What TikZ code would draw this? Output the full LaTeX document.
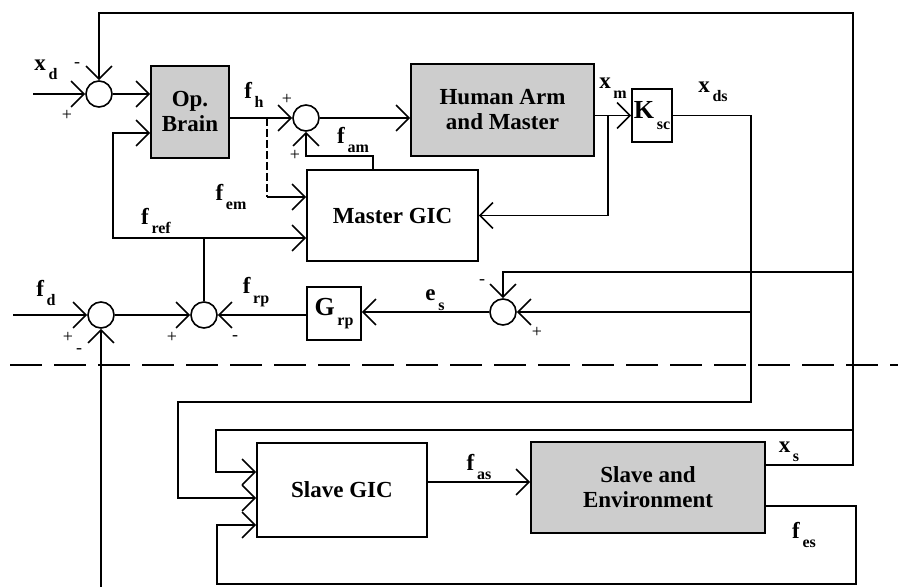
\documentclass[tikz,border=0pt]{standalone}
\usepackage{fontspec}
\setmainfont{Liberation Serif}
\usetikzlibrary{positioning,arrows.meta}
\definecolor{BlockGray}{HTML}{CDCDCD}
\newcommand{\sgl}[2]{#1\raisebox{-0.9ex}{\fontsize{8}{9}\selectfont\,#2}}

\begin{document}
\begin{tikzpicture}[
  x=0.5pt, y=-0.5pt,
  font=\fontsize{11.5}{12.5}\selectfont\bfseries,
  block/.style={draw, line width=0.8pt, align=center, inner sep=0pt},
  shaded/.style={block, fill=BlockGray},
  sum/.style={draw, circle, line width=0.8pt, minimum size=13pt, inner sep=0pt},
  sign/.style={font=\fontsize{9}{9}\selectfont, inner sep=0pt},
  wire/.style={line width=0.8pt},
  arrow/.style={wire, -{Straight Barb[length=6.5pt,width=13pt]}}
]
\useasboundingbox (0,0) rectangle (898,587);

\node[shaded, minimum width=39pt, minimum height=46pt] (brain) at (190,112) {Op.\\Brain};
\node[shaded, minimum width=91.5pt, minimum height=46pt] (arm) at (502.5,110) {Human Arm\\and Master};
\node[block, minimum width=20pt, minimum height=26.5pt] (ksc) at (652,115.5) {\sgl{\fontsize{13}{13}\selectfont K}{sc}};
\node[block, minimum width=85.5pt, minimum height=45.5pt] (mgic) at (392.5,215.5) {Master GIC};
\node[block, minimum width=27pt, minimum height=26.5pt] (grp) at (334,313.5) {\sgl{\fontsize{13}{13}\selectfont G}{rp}};
\node[block, minimum width=85pt, minimum height=47pt] (sgic) at (342,490) {Slave GIC};
\node[shaded, minimum width=117pt, minimum height=45.5pt] (senv) at (648,487.5) {Slave and\\Environment};

\node[sum] (s1) at (99,94) {};
\node[sum] (s2) at (306,118) {};
\node[sum] (s3) at (503,312) {};
\node[sum] (s4) at (101,315) {};
\node[sum] (s5) at (204,315) {};

\node[sign] (s1m) at (77,65) {-};
\node[sign] (s1p) at (67,115) {+};
\node[sign] (s2pa) at (287,99) {+};
\node[sign] (s2pb) at (295,155) {+};
\node[sign] (s3m) at (482,282) {-};
\node[sign] (s3p) at (537,332) {+};
\node[sign] (s4p) at (68,337) {+};
\node[sign] (s4m) at (79,351) {-};
\node[sign] (s5p) at (172,337) {+};
\node[sign] (s5m) at (235,338) {-};

\node (xdlbl) at (46,70) {\sgl{x}{d}};
\node (fhlbl) at (254,95) {\sgl{f}{h}};
\node (famlbl) at (353,140) {\sgl{f}{am}};
\node (femlbl) at (231,197) {\sgl{f}{em}};
\node (freflbl) at (156,221) {\sgl{f}{ref}};
\node (xmlbl) at (613,88) {\sgl{x}{m}};
\node (xdslbl) at (713,92) {\sgl{x}{ds}};
\node (eslbl) at (435,300) {\sgl{e}{s}};
\node (fdlbl) at (46,293) {\sgl{f}{d}};
\node (frplbl) at (256,292) {\sgl{f}{rp}};
\node (faslbl) at (479,467) {\sgl{f}{as}};
\node (xslbl) at (789,452) {\sgl{x}{s}};
\node (feslbl) at (804,535) {\sgl{f}{es}};

\coordinate (xdin) at (33,94);
\coordinate (fdin) at (13,315);
\coordinate (fhsplit) at (267,118);
\coordinate (embend) at (267,197);
\coordinate (amtap) at (373,170);
\coordinate (xmsplit) at (608,115.5);
\coordinate (xdsdown) at (751,402);
\coordinate (xdsleft) at (178,402);
\coordinate (esplit) at (751,312);
\coordinate (frefsplit) at (204,238);
\coordinate (frefbend) at (113,238);
\coordinate (xstop) at (853,13);
\coordinate (s3split) at (853,272);
\coordinate (sgicsplit) at (853,430);
\coordinate (sgicbend) at (216,430);
\coordinate (esright) at (856,584);
\coordinate (esleft) at (217,584);
\coordinate (fsbot) at (101,587);
\coordinate (sepl) at (10,365);
\coordinate (sepr) at (898,365);

\draw[arrow] (xdin) -- (s1);
\draw[arrow] (s1) -- (s1 -| brain.west);
\draw[arrow] (brain.east |- s2) -- (s2);
\draw[arrow] (s2) -- (s2 -| arm.west);
\draw[wire, dash pattern=on 4pt off 1.5pt] (fhsplit) -- (embend);
\draw[arrow] (embend) -- (embend -| mgic.west);
\draw[arrow] (amtap) -- ++(0,-14) -| (s2);
\draw[arrow] (arm.east |- ksc) -- (ksc);
\draw[arrow] (xmsplit) |- (mgic.east);
\draw[arrow] (ksc) -| (xdsdown) -- (xdsleft) |- (sgic.west |- 0,498);
\draw[arrow] (esplit) -- (s3);
\draw[arrow] (s3) -- (s3 -| grp.east);
\draw[arrow] (grp.west |- s5) -- (s5);
\draw[wire] (s5) -- (frefsplit);
\draw[arrow] (frefsplit) -- (frefsplit -| mgic.west);
\draw[arrow] (frefsplit) -- (frefbend) |- (brain.west |- 0,133);
\draw[arrow] (fdin) -- (s4);
\draw[arrow] (s4) -- (s5);
\draw[arrow] (fsbot) -- (s4);
\draw[arrow] (senv.east |- 0,465) -| (xstop) -| (s1);
\draw[arrow] (s3split) -| (s3);
\draw[arrow] (sgicsplit) -- (sgicbend) |- (sgic.west |- 0,472);
\draw[arrow] (sgic.east |- 0,482) -- (senv.west |- 0,482);
\draw[arrow] (senv.east |- 0,506) -| (esright) -- (esleft) |- (sgic.west |- 0,525);
\draw[line width=1.2pt, dash pattern=on 16pt off 6pt] (sepl) -- (sepr);
\end{tikzpicture}
\end{document}
